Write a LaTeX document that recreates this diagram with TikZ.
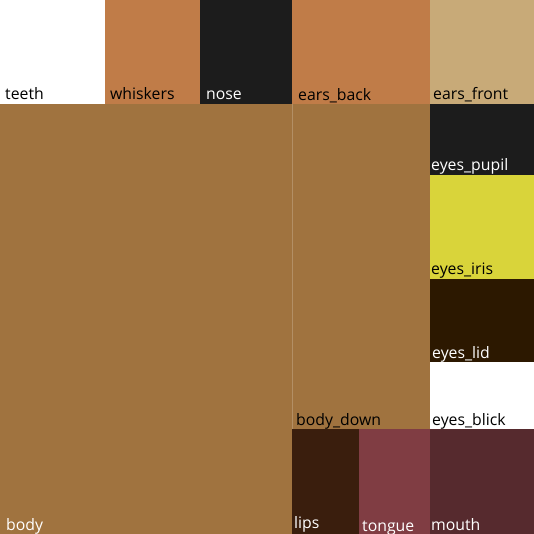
\documentclass[tikz,border=0pt]{standalone}
\usepackage{fontspec}
\setmainfont{Open Sans}
\usepackage{tikz}
\definecolor{whiskerbrown}{HTML}{C07C48}
\definecolor{nosedark}{HTML}{1C1C1C}
\definecolor{earstan}{HTML}{C8AA78}
\definecolor{bodybrown}{HTML}{A0733F}
\definecolor{irisyellow}{HTML}{D9D43A}
\definecolor{liddark}{HTML}{2C1800}
\definecolor{lipsbrown}{HTML}{3A1E0D}
\definecolor{tonguered}{HTML}{803D43}
\definecolor{mouthred}{HTML}{562A2E}

\begin{document}
\begin{tikzpicture}[x=1pt, y=-1pt, font=\fontsize{15.8}{18}\selectfont,
  lbl/.style={anchor=base west, inner sep=0pt},
  lbldark/.style={lbl, text=black},
  lbllight/.style={lbl, text=white}]
  \useasboundingbox (0,0) rectangle (534,534);
  % top row
  \fill[white]        (0,0)   rectangle (105,104);
  \fill[whiskerbrown] (105,0) rectangle (200,104);
  \fill[nosedark]     (200,0) rectangle (292,104);
  \fill[whiskerbrown] (292,0) rectangle (430,104);
  \fill[earstan]      (430,0) rectangle (534,104);
  % body
  \fill[bodybrown] (0,104)   rectangle (292,534);
  \fill[bodybrown] (292,104) rectangle (430,429);
  \draw[bodybrown!80!white, line width=0.6pt] (292.3,104) -- (292.3,534);
  % eyes
  \fill[nosedark]   (430,104) rectangle (534,175);
  \fill[irisyellow] (430,175) rectangle (534,279);
  \fill[liddark]    (430,279) rectangle (534,362);
  \fill[white]      (430,362) rectangle (534,429);
  % mouth
  \fill[lipsbrown] (292,429) rectangle (359,534);
  \fill[tonguered] (359,429) rectangle (430,534);
  \fill[mouthred]  (430,429) rectangle (534,534);

  % labels
  \node[lbldark]  (teeth)      at (5,100)   {teeth};
  \node[lbldark]  (whiskers)   at (110,100) {whiskers};
  \node[lbllight] (nose)       at (206,100) {nose};
  \node[lbldark]  (ears_back)  at (298,101) {ears\_back};
  \node[lbldark]  (ears_front) at (433,100) {ears\_front};
  \node[lbllight] (eyes_pupil) at (431,171) {eyes\_pupil};
  \node[lbldark]  (eyes_iris)  at (431,274) {eyes\_iris};
  \node[lbllight] (eyes_lid)   at (432,358) {eyes\_lid};
  \node[lbldark]  (eyes_blick) at (432,425) {eyes\_blick};
  \node[lbldark]  (body_down)  at (296,425) {body\_down};
  \node[lbllight] (body)       at (6,530)   {body};
  \node[lbllight] (lips)       at (294,528) {lips};
  \node[lbllight] (tongue)     at (362,531) {tongue};
  \node[lbllight] (mouth)      at (431,530) {mouth};
\end{tikzpicture}
\end{document}
